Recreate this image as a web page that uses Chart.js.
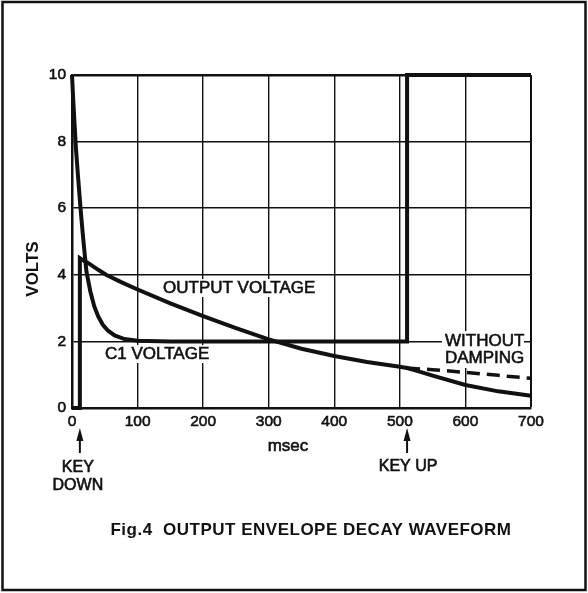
<!DOCTYPE html>
<html>
<head>
<meta charset="utf-8">
<script src="https://cdn.jsdelivr.net/npm/chart.js@4.4.0/dist/chart.umd.min.js"></script>
<style>
  html, body { margin: 0; padding: 0; background: #fff; }
  #wrap { width: 588px; height: 593px; }
</style>
</head>
<body>
<div id="wrap"><canvas id="chart" width="588" height="593"></canvas></div>
<script>
// msec ticks and volts ticks
const timeTicks = [0, 100, 200, 300, 400, 500, 600, 700];
const voltTicks = [0, 2, 4, 6, 8, 10];

// C1 voltage: decays from 10 V to 2 V, jumps back to 10 V at key up
const c1Time  = [0, 2, 4, 6, 9, 13, 17, 22, 28, 34, 40, 47, 55, 65, 80, 100, 150, 511, 511, 700];
const c1Volts = [10, 9.2, 8.5, 7.8, 7.0, 6.0, 5.1, 4.1, 3.5, 3.05, 2.75, 2.5, 2.32, 2.18, 2.07, 2.02, 2.0, 2.0, 10, 10];

// Output voltage (with damping after key up)
const outTime  = [0, 12, 12, 15, 25, 40, 52, 75, 100, 150, 200, 250, 300, 350, 400, 450, 500, 511, 525, 550, 600, 650, 700];
const outVolts = [0, 0, 4.5, 4.46, 4.35, 4.15, 4.0, 3.78, 3.56, 3.14, 2.76, 2.4, 2.06, 1.78, 1.56, 1.38, 1.24, 1.2, 1.12, 0.97, 0.69, 0.5, 0.37];

// Output voltage without damping (dashed)
const freeTime  = [511, 550, 600, 650, 700];
const freeVolts = [1.2, 1.15, 1.07, 0.98, 0.89];

const FONT = '"Liberation Sans", Arial, Helvetica, sans-serif';
const INK = '#111';

function toPoints(xs, ys) {
    return xs.map((x, i) => ({ x: x, y: ys[i] }));
}

// a thin outline makes the text look as heavy as the printed original
function inkText(ctx, text, x, y) {
    ctx.fillStyle = INK;
    ctx.strokeStyle = INK;
    ctx.lineWidth = 0.6;
    ctx.fillText(text, x, y);
    ctx.strokeText(text, x, y);
}

// white box behind a label so the grid is knocked out, like the print
function knockText(ctx, text, x, y) {
    const w = ctx.measureText(text).width;
    ctx.fillStyle = '#fff';
    ctx.fillRect(x - 3, y - 9, w + 6, 18);
    inkText(ctx, text, x, y);
}

function arrowUp(ctx, x, tip, tail) {
    ctx.strokeStyle = INK;
    ctx.lineWidth = 2;
    ctx.beginPath();
    ctx.moveTo(x, tip + 8);
    ctx.lineTo(x, tail);
    ctx.stroke();
    ctx.fillStyle = INK;
    ctx.beginPath();
    ctx.moveTo(x, tip);
    ctx.lineTo(x - 3.5, tip + 13);
    ctx.lineTo(x + 3.5, tip + 13);
    ctx.closePath();
    ctx.fill();
}

const labelsPlugin = {
    id: 'labels',
    beforeDatasetsDraw(chart) {
        const ctx = chart.ctx;
        ctx.save();
        ctx.textBaseline = 'middle';
        ctx.textAlign = 'left';
        ctx.font = '17px ' + FONT;
        knockText(ctx, 'OUTPUT VOLTAGE', 163, 288);
        knockText(ctx, 'C1 VOLTAGE', 105, 354);
        // WITHOUT / DAMPING block
        ctx.fillStyle = '#fff';
        ctx.fillRect(442, 331, 82, 37);
        inkText(ctx, 'WITHOUT', 445, 341);
        inkText(ctx, 'DAMPING', 445, 358);
        ctx.restore();
    },
    afterDraw(chart) {
        const ctx = chart.ctx;
        const xs = chart.scales.x;
        ctx.save();
        ctx.textBaseline = 'middle';
        ctx.textAlign = 'center';

        // y axis title
        ctx.save();
        ctx.translate(33, 269);
        ctx.rotate(-Math.PI / 2);
        ctx.font = 'bold 17px ' + FONT;
        ctx.fillStyle = INK;
        ctx.fillText('VOLTS', 0, 0);
        ctx.restore();

        ctx.font = '17px ' + FONT;
        inkText(ctx, 'msec', 288, 446);

        // key down / key up markers
        const kd = xs.getPixelForValue(12);
        const ku = xs.getPixelForValue(511);
        arrowUp(ctx, kd, 428, 453);
        arrowUp(ctx, ku, 428, 453);
        ctx.font = '16px ' + FONT;
        inkText(ctx, 'KEY', kd - 2, 468);
        inkText(ctx, 'DOWN', kd - 2, 486);
        inkText(ctx, 'KEY UP', ku + 1, 467);

        // caption
        ctx.font = 'bold 17px ' + FONT;
        ctx.letterSpacing = '0.5px';
        ctx.fillStyle = INK;
        ctx.fillText('Fig.4  OUTPUT ENVELOPE DECAY WAVEFORM', 311, 530);
        ctx.letterSpacing = '0px';

        // outer frame
        ctx.strokeStyle = INK;
        ctx.lineWidth = 2.5;
        ctx.strokeRect(2.5, 2, 583, 588);
        ctx.restore();
    }
};

const lineStyle = {
    borderColor: INK,
    borderWidth: 4,
    pointRadius: 0,
    tension: 0,
    fill: false,
    clip: false
};

const tickStyle = {
    color: INK,
    font: { family: FONT, size: 15.5 },
    textStrokeColor: INK,
    textStrokeWidth: 0.6
};

new Chart(document.getElementById('chart'), {
    type: 'line',
    data: {
        datasets: [
            Object.assign({ label: 'C1 VOLTAGE', data: toPoints(c1Time, c1Volts) }, lineStyle),
            Object.assign({ label: 'OUTPUT VOLTAGE', data: toPoints(outTime, outVolts) }, lineStyle),
            Object.assign({ label: 'WITHOUT DAMPING', data: toPoints(freeTime, freeVolts) }, lineStyle, { borderWidth: 3.5, borderDash: [13, 7] })
        ]
    },
    options: {
        responsive: false,
        animation: false,
        events: [],
        layout: { padding: { left: 0, top: 75, right: 57, bottom: 0 } },
        plugins: {
            legend: { display: false },
            tooltip: { enabled: false }
        },
        scales: {
            x: {
                type: 'linear',
                min: 0,
                max: 700,
                afterBuildTicks: scale => { scale.ticks = timeTicks.map(v => ({ value: v })); },
                afterFit: scale => { scale.height = 185; },
                ticks: Object.assign({ padding: 4, maxRotation: 0 }, tickStyle),
                grid: {
                    color: INK,
                    lineWidth: ctx => (ctx.tick && ctx.tick.value === 700 ? 2 : 1.4),
                    drawTicks: false
                },
                border: { display: true, color: INK, width: 2.5 }
            },
            y: {
                min: 0,
                max: 10,
                afterBuildTicks: scale => { scale.ticks = voltTicks.map(v => ({ value: v })); },
                afterFit: scale => { scale.width = 72; },
                ticks: Object.assign({ padding: 6 }, tickStyle),
                grid: {
                    color: INK,
                    lineWidth: ctx => (ctx.tick && ctx.tick.value === 10 ? 2.5 : 1.5),
                    drawTicks: false
                },
                border: { display: true, color: INK, width: 2.5 }
            }
        }
    },
    plugins: [labelsPlugin]
});
</script>
</body>
</html>
